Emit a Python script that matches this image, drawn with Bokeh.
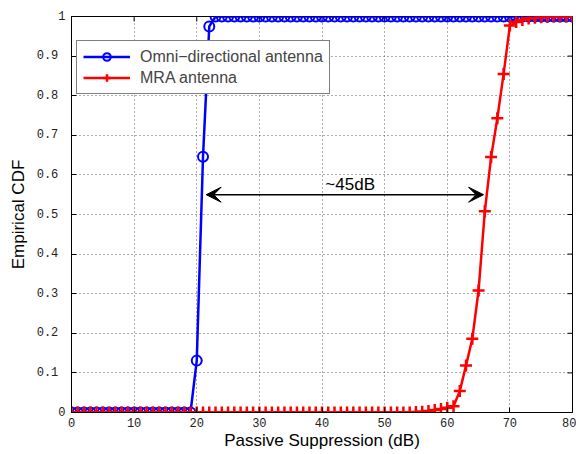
import math
from bokeh.plotting import figure
from bokeh.models import (Range1d, FixedTicker, Legend, LegendItem,
                          Arrow, VeeHead, Label)
from bokeh.embed import file_html
from bokeh.resources import INLINE

# ---- data ----
x_db = list(range(0, 81))
omni_cdf = [0.0] * 20 + [0.131, 0.646, 0.975] + [1.0] * 58
mra_cdf = ([0.0] * 55 +
           [0.001, 0.002, 0.004, 0.006, 0.009, 0.012, 0.016, 0.054, 0.119, 0.186,
            0.308, 0.508, 0.645, 0.743, 0.855, 0.977, 0.986, 0.991, 0.995, 0.997,
            0.998, 0.999, 1.0, 1.0, 1.0, 1.0])
x_ticks = [0, 10, 20, 30, 40, 50, 60, 70, 80]
y_ticks = [0, 0.1, 0.2, 0.3, 0.4, 0.5, 0.6, 0.7, 0.8, 0.9, 1.0]
y_tick_labels = ["0", "0.1", "0.2", "0.3", "0.4", "0.5", "0.6", "0.7", "0.8", "0.9", "1"]
arrow_x = [21.5, 65.8]
arrow_y = 0.55
annot_text = "~45dB"
annot_pos = (44.5, 0.575)

TICK_FONT = "Liberation Mono"
LABEL_FONT = "Liberation Sans"

p = figure(width=576, height=454, x_range=Range1d(0, 80), y_range=Range1d(0, 1),
           output_backend="svg", toolbar_location=None,
           min_border_left=71, min_border_right=4, min_border_top=16, min_border_bottom=42,
           background_fill_color="white", border_fill_color="white")
p.outline_line_color = "black"
p.outline_line_width = 1

for ax in (p.xaxis[0], p.yaxis[0]):
    ax.major_tick_in = 5
    ax.major_tick_out = 0
    ax.minor_tick_in = 0
    ax.minor_tick_out = 0
    ax.axis_line_color = "black"
    ax.major_tick_line_color = "black"
    ax.major_label_text_font = TICK_FONT
    ax.major_label_text_font_size = "12px"
    ax.major_label_text_color = "#222222"
    ax.axis_label_text_font = LABEL_FONT
    ax.axis_label_text_font_size = "17px"
    ax.axis_label_text_font_style = "normal"
    ax.axis_label_text_color = "black"

p.xaxis[0].ticker = FixedTicker(ticks=x_ticks)
p.xaxis[0].axis_label = "Passive Suppression (dB)"
p.xaxis[0].major_label_standoff = 5
p.xaxis[0].axis_label_standoff = 1

p.yaxis[0].ticker = FixedTicker(ticks=y_ticks)
p.yaxis[0].axis_label = "Empirical CDF"
p.yaxis[0].major_label_standoff = 6
p.yaxis[0].axis_label_standoff = 6
overrides = {}
for t, lab in zip(y_ticks, y_tick_labels):
    overrides[t] = lab if len(lab) == 1 else lab + "\u00a0"
p.yaxis[0].major_label_overrides = overrides

# grid
for g in (p.xgrid[0], p.ygrid[0]):
    g.grid_line_color = "#555555"
    g.grid_line_dash = "1 3"
    g.grid_line_width = 1
p.xgrid[0].ticker = FixedTicker(ticks=x_ticks)
p.ygrid[0].ticker = FixedTicker(ticks=y_ticks)

# inward ticks on top and right edges of the box (half of each dash is clipped by the frame)
p.scatter(x_ticks, [p.y_range.end] * len(x_ticks), marker="dash", angle=math.pi / 2,
          size=10, line_color="black", line_width=1)
p.scatter([p.x_range.end] * len(y_ticks), y_ticks, marker="dash", angle=0,
          size=10, line_color="black", line_width=1)

# series
bl = p.line(x_db, omni_cdf, line_color="blue", line_width=2.5)
bm = p.scatter(x_db, omni_cdf, marker="circle", size=10, line_color="blue",
               line_width=2, fill_alpha=0)
rl = p.line(x_db, mra_cdf, line_color="red", line_width=2.5)
rm = p.scatter(x_db, mra_cdf, marker="cross", size=12, line_color="red", line_width=2.5)

legend = Legend(items=[LegendItem(label="Omni\u2212directional antenna", renderers=[bl, bm]),
                       LegendItem(label="MRA antenna", renderers=[rl, rm])],
                location=(5, 318), label_text_font=LABEL_FONT, label_text_font_size="16px",
                glyph_width=47, glyph_height=19, label_height=19, spacing=2,
                padding=6, margin=0, border_line_color="black", border_line_width=1,
                background_fill_color="white", background_fill_alpha=1, label_standoff=10)
p.add_layout(legend, "center")

# annotation
p.add_layout(Arrow(x_start=arrow_x[0], y_start=arrow_y, x_end=arrow_x[1], y_end=arrow_y,
                   line_color="black", line_width=1.5,
                   start=VeeHead(size=15, fill_color="black", line_color="black"),
                   end=VeeHead(size=15, fill_color="black", line_color="black")))
p.add_layout(Label(x=annot_pos[0], y=annot_pos[1], text=annot_text, text_font=LABEL_FONT,
                   text_font_size="17px", text_align="center", text_baseline="middle",
                   text_color="black"))

open("out.html", "w").write(file_html(p, INLINE))
